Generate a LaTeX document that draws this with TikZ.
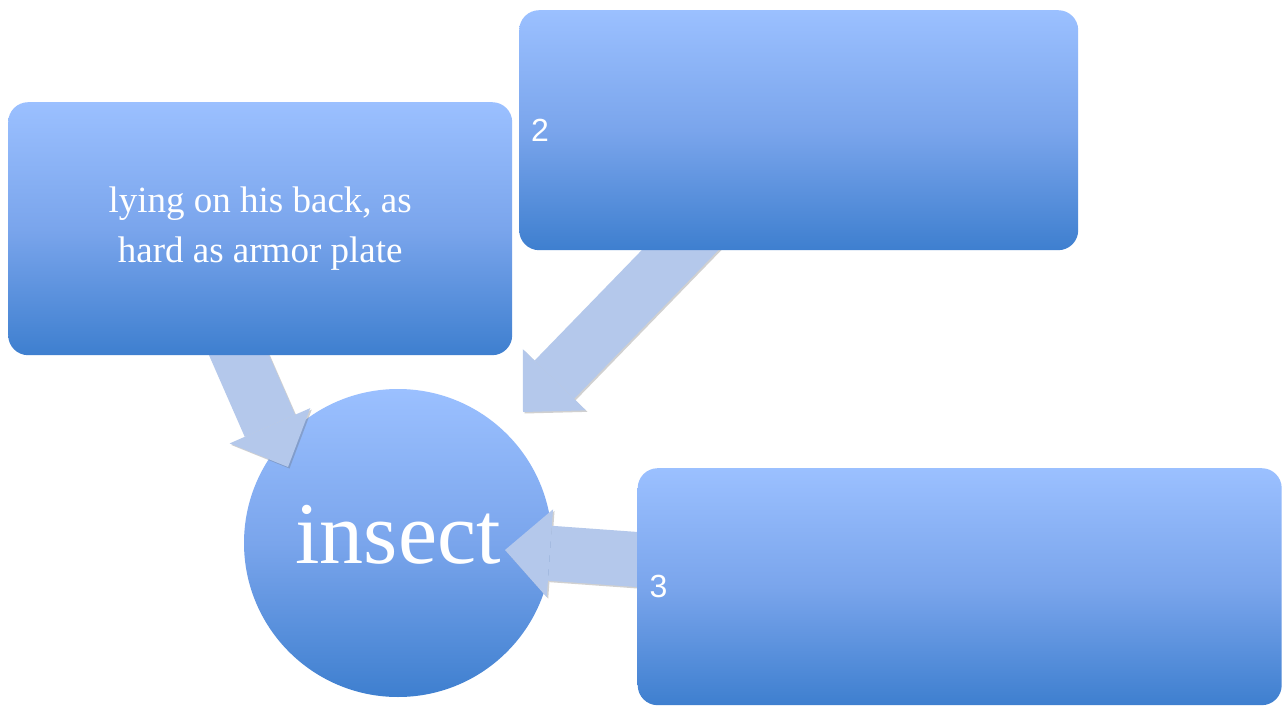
\documentclass[tikz,border=0pt]{standalone}
\usepackage{fontspec}
\setmainfont{Liberation Serif}
\newfontfamily\sansf{Liberation Sans}
\usetikzlibrary{arrows.meta,calc}
\definecolor{btop}{RGB}{155,192,255}
\definecolor{bmid}{RGB}{122,165,236}
\definecolor{bbot}{RGB}{62,127,207}
\definecolor{arr}{RGB}{180,200,235}
\pgfdeclarelayer{back}
\pgfdeclarelayer{bg}
\pgfsetlayers{back,bg,main}
\begin{document}
\begin{tikzpicture}[x=1pt,y=-1pt,
  grad/.style={top color=btop, bottom color=bbot, middle color=bmid, text=white, inner sep=0pt},
  box/.style={grad, rounded corners=20pt},
  blockarrow/.style={draw=arr, line width=55pt, -{Triangle[width=88pt,length=45pt,line width=0pt]}},
  shadowarrow/.style={draw=black!60, opacity=0.3, line width=55pt, -{Triangle[width=88pt,length=45pt,line width=0pt]},
    transform canvas={shift={(1.5pt,-1.5pt)}}}]
\useasboundingbox (0,0) rectangle (1283,706);
\begin{pgfonlayer}{back}
  \fill[white] (0,0) rectangle (1283,706);
\end{pgfonlayer}
% boxes
\node[box, anchor=north west, minimum width=504pt, minimum height=253pt, align=center,
      font=\fontsize{37}{50}\selectfont] (box1) at (8,102) {lying on his back, as\\hard as armor plate};
\node[box, anchor=north west, minimum width=559pt, minimum height=240pt, inner xsep=12pt,
      text width=535pt, align=left, font=\sansf\fontsize{32}{36}\selectfont] (box2) at (519,10) {2};
\node[box, anchor=north west, minimum width=644pt, minimum height=237pt, inner xsep=12pt,
      text width=620pt, align=left, font=\sansf\fontsize{32}{36}\selectfont] (box3) at (637.5,468) {3};
\begin{pgfonlayer}{bg}
  \node[grad, circle, minimum size=308pt, font=\fontsize{88}{100}\selectfont,
        text height=60pt, text depth=20pt] (c) at (398,543) {insect};
  \coordinate (t1) at ($(c)+(-110,-76)$);
  \coordinate (t2) at ($(c)+(125,-131)$);
  \coordinate (t3) at ($(c)+(107,7)$);
  \draw[shadowarrow] ($(box1.south)+(-34,-29.5)$) -- (t1);
  \draw[shadowarrow] ($(box2.south)+(-97.5,-22)$) -- (t2);
  \draw[shadowarrow] ($(box3.west)+(30,-25)$) -- (t3);
  \draw[blockarrow] ($(box1.south)+(-34,-29.5)$) -- (t1);
  \draw[blockarrow] ($(box2.south)+(-97.5,-22)$) -- (t2);
  \draw[blockarrow] ($(box3.west)+(30,-25)$) -- (t3);
\end{pgfonlayer}
\end{tikzpicture}
\end{document}
